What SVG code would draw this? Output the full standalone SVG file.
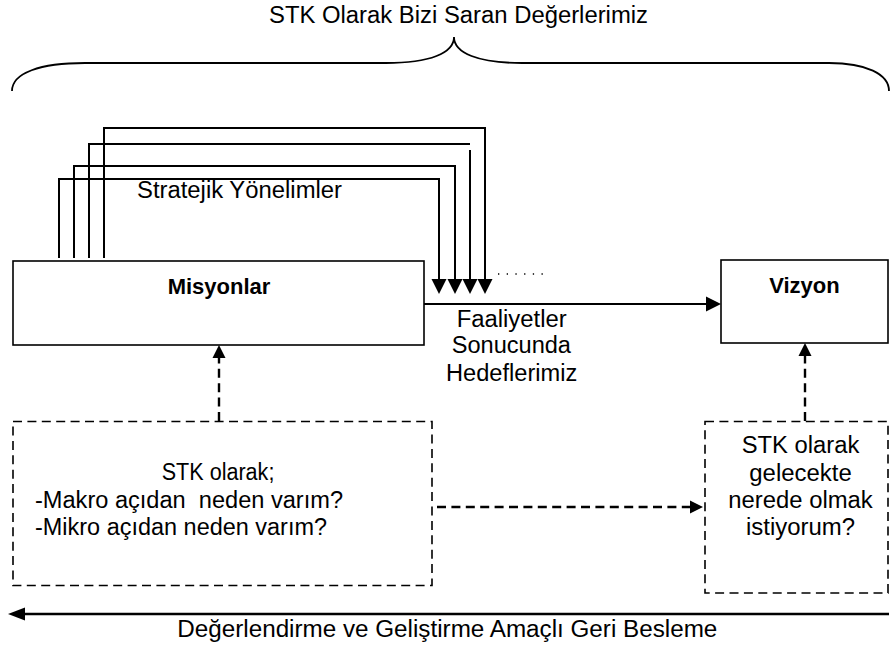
<svg xmlns="http://www.w3.org/2000/svg" width="890" height="656" viewBox="0 0 890 656">
<style>
text{font-family:"Liberation Sans",Arial,sans-serif;font-size:23px;fill:#000}
.b{font-weight:bold;font-size:22px}
.box{fill:#fff;stroke:#000;stroke-width:1.6}
.dbox{fill:none;stroke:#000;stroke-width:1.6;stroke-dasharray:9 5.4}
.ln{fill:none;stroke:#000;stroke-width:2}
.dl{fill:none;stroke:#000;stroke-width:2.4;stroke-dasharray:9 5.4}
.brace{fill:none;stroke:#000;stroke-width:1.8}
</style>
<defs>
<marker id="ah15" markerUnits="userSpaceOnUse" markerWidth="16" markerHeight="16" refX="0" refY="7.5" orient="auto" overflow="visible"><path d="M0,0 L15,7.5 L0,15 Z" fill="#000"/></marker>
<marker id="ah13" markerUnits="userSpaceOnUse" markerWidth="14" markerHeight="14" refX="0" refY="6.5" orient="auto" overflow="visible"><path d="M0,0 L13,6.5 L0,13 Z" fill="#000"/></marker>
<marker id="ah17" markerUnits="userSpaceOnUse" markerWidth="18" markerHeight="14" refX="0" refY="6.5" orient="auto" overflow="visible"><path d="M0,0 L17,6.5 L0,13 Z" fill="#000"/></marker>
</defs>

<g id="title">
<text x="269" y="23" textLength="379" lengthAdjust="spacingAndGlyphs">STK Olarak Bizi Saran Değerlerimiz</text>
<path class="brace" d="M12,91 C12,73 40,63 85,63 L386,63 C430,63 454,53 454,37 C454,53 478,63 522,63 L829,63 C866,63 889,74 889,91"/>
</g>

<g id="connectors">
<path class="ln" d="M59,258 V179 H439 V279" marker-end="url(#ah15)"/>
<path class="ln" d="M74,258 V166 H455 V279" marker-end="url(#ah15)"/>
<path class="ln" d="M89,258 V144 H470"/>
<path class="ln" d="M470,150 V279" marker-end="url(#ah15)"/>
<path class="ln" d="M104,258 V128 H485 V279" marker-end="url(#ah15)"/>
<line x1="498" y1="274" x2="545" y2="274" stroke="#000" stroke-width="1.3" stroke-dasharray="1.3 7.4"/>
<path class="ln" d="M424,304 H706" marker-end="url(#ah15)"/>
<path class="dl" d="M219,421 V358" marker-end="url(#ah13)"/>
<path class="dl" d="M805,421 V356" marker-end="url(#ah13)"/>
<path class="dl" d="M437,507 H690" marker-end="url(#ah13)"/>
<path d="M889,614 H25" fill="none" stroke="#000" stroke-width="2.6" marker-end="url(#ah17)"/>
</g>

<g id="strateji-label">
<text x="137" y="198" textLength="205" lengthAdjust="spacingAndGlyphs">Stratejik Yönelimler</text>
</g>

<g id="misyonlar">
<rect class="box" x="13" y="261" width="411" height="84"/>
<text class="b" x="219" y="294" text-anchor="middle">Misyonlar</text>
</g>

<g id="vizyon">
<rect class="box" x="721" y="260" width="167" height="83"/>
<text class="b" x="804.5" y="293" text-anchor="middle">Vizyon</text>
</g>

<g id="faaliyetler-label">
<text x="456.7" y="327" textLength="110" lengthAdjust="spacingAndGlyphs">Faaliyetler</text>
<text x="451.7" y="353" textLength="119.3" lengthAdjust="spacingAndGlyphs">Sonucunda</text>
<text x="446" y="381" textLength="131.3" lengthAdjust="spacingAndGlyphs">Hedeflerimiz</text>
</g>

<g id="neden">
<rect class="dbox" x="13" y="421.5" width="419" height="164"/>
<text x="161.7" y="480" textLength="112.7" lengthAdjust="spacingAndGlyphs">STK olarak;</text>
<text x="35" y="508" xml:space="preserve" textLength="308" lengthAdjust="spacingAndGlyphs">-Makro açıdan  neden varım?</text>
<text x="35" y="535" textLength="292" lengthAdjust="spacingAndGlyphs">-Mikro açıdan neden varım?</text>
</g>

<g id="gelecek">
<rect class="dbox" x="705" y="421.5" width="183" height="171.5"/>
<text x="741.7" y="453" textLength="117.6" lengthAdjust="spacingAndGlyphs">STK olarak</text>
<text x="749.3" y="481" textLength="102.4" lengthAdjust="spacingAndGlyphs">gelecekte</text>
<text x="728.3" y="508" textLength="144.4" lengthAdjust="spacingAndGlyphs">nerede olmak</text>
<text x="746" y="535" textLength="109" lengthAdjust="spacingAndGlyphs">istiyorum?</text>
</g>

<g id="geri-besleme">
<text x="177.3" y="637" textLength="540" lengthAdjust="spacingAndGlyphs">Değerlendirme ve Geliştirme Amaçlı Geri Besleme</text>
</g>
</svg>
